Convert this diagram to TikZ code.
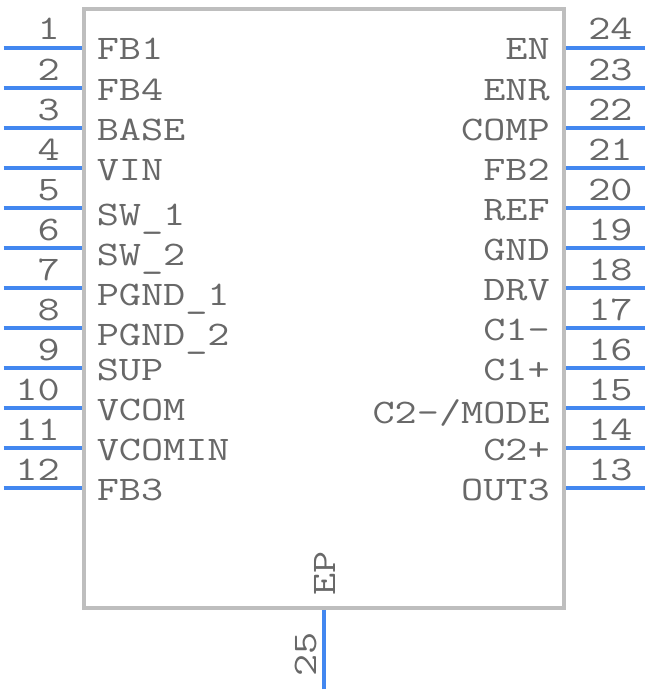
\documentclass[tikz,border=0pt]{standalone}
\usepackage{fontspec}
\setmonofont[FakeStretch=1.25]{Latin Modern Mono}
\usepackage{xcolor}
\definecolor{pinblue}{HTML}{4287F0}
\definecolor{bodygray}{HTML}{BEBEBE}
\definecolor{textgray}{HTML}{686868}
\newcommand{\pinbar}{\raisebox{-1.5pt}{\_}}
\tikzset{
  x=.75pt, y=-.75pt,
  chip/.style={rectangle, draw=bodygray, line width=3pt, minimum width=360pt, minimum height=449.6pt, inner sep=0pt},
  pin/.style={draw=pinblue, line width=3pt},
  lbl/.style={text=textgray, inner sep=0pt, font=\ttfamily\fontsize{25.8pt}{25.8pt}\selectfont},
}

\begin{document}
\begin{tikzpicture}
  \useasboundingbox (0, 0) rectangle (648, 692);

  \node[chip] (body) at (324, 308.25) {};

  \coordinate (p1) at (3.5, 48);
  \coordinate (p2) at (3.5, 88);
  \coordinate (p3) at (3.5, 128);
  \coordinate (p4) at (3.5, 168);
  \coordinate (p5) at (3.5, 208);
  \coordinate (p6) at (3.5, 248);
  \coordinate (p7) at (3.5, 288);
  \coordinate (p8) at (3.5, 328);
  \coordinate (p9) at (3.5, 368);
  \coordinate (p10) at (3.5, 408);
  \coordinate (p11) at (3.5, 448);
  \coordinate (p12) at (3.5, 488);
  \coordinate (p13) at (645, 488);
  \coordinate (p14) at (645, 448);
  \coordinate (p15) at (645, 408);
  \coordinate (p16) at (645, 368);
  \coordinate (p17) at (645, 328);
  \coordinate (p18) at (645, 288);
  \coordinate (p19) at (645, 248);
  \coordinate (p20) at (645, 208);
  \coordinate (p21) at (645, 168);
  \coordinate (p22) at (645, 128);
  \coordinate (p23) at (645, 88);
  \coordinate (p24) at (645, 48);
  \coordinate (p25) at (324, 689);

  \draw[pin] (p1) -- (p1 -| body.west);
  \draw[pin] (p2) -- (p2 -| body.west);
  \draw[pin] (p3) -- (p3 -| body.west);
  \draw[pin] (p4) -- (p4 -| body.west);
  \draw[pin] (p5) -- (p5 -| body.west);
  \draw[pin] (p6) -- (p6 -| body.west);
  \draw[pin] (p7) -- (p7 -| body.west);
  \draw[pin] (p8) -- (p8 -| body.west);
  \draw[pin] (p9) -- (p9 -| body.west);
  \draw[pin] (p10) -- (p10 -| body.west);
  \draw[pin] (p11) -- (p11 -| body.west);
  \draw[pin] (p12) -- (p12 -| body.west);
  \draw[pin] (p13) -- (p13 -| body.east);
  \draw[pin] (p14) -- (p14 -| body.east);
  \draw[pin] (p15) -- (p15 -| body.east);
  \draw[pin] (p16) -- (p16 -| body.east);
  \draw[pin] (p17) -- (p17 -| body.east);
  \draw[pin] (p18) -- (p18 -| body.east);
  \draw[pin] (p19) -- (p19 -| body.east);
  \draw[pin] (p20) -- (p20 -| body.east);
  \draw[pin] (p21) -- (p21 -| body.east);
  \draw[pin] (p22) -- (p22 -| body.east);
  \draw[pin] (p23) -- (p23 -| body.east);
  \draw[pin] (p24) -- (p24 -| body.east);
  \draw[pin] (p25) -- (p25 |- body.south);

  \node[lbl, anchor=base east] (n1) at (60, 40) {1};
  \node[lbl, anchor=base east] (n2) at (60, 80) {2};
  \node[lbl, anchor=base east] (n3) at (60, 120) {3};
  \node[lbl, anchor=base east] (n4) at (60, 160) {4};
  \node[lbl, anchor=base east] (n5) at (60, 200) {5};
  \node[lbl, anchor=base east] (n6) at (60, 240) {6};
  \node[lbl, anchor=base east] (n7) at (60, 280) {7};
  \node[lbl, anchor=base east] (n8) at (60, 320) {8};
  \node[lbl, anchor=base east] (n9) at (60, 360) {9};
  \node[lbl, anchor=base east] (n10) at (60, 400) {10};
  \node[lbl, anchor=base east] (n11) at (60, 440) {11};
  \node[lbl, anchor=base east] (n12) at (60, 480) {12};
  \node[lbl, anchor=base west] (n13) at (588, 480) {13};
  \node[lbl, anchor=base west] (n14) at (588, 440) {14};
  \node[lbl, anchor=base west] (n15) at (588, 400) {15};
  \node[lbl, anchor=base west] (n16) at (588, 360) {16};
  \node[lbl, anchor=base west] (n17) at (588, 320) {17};
  \node[lbl, anchor=base west] (n18) at (588, 280) {18};
  \node[lbl, anchor=base west] (n19) at (588, 240) {19};
  \node[lbl, anchor=base west] (n20) at (588, 200) {20};
  \node[lbl, anchor=base west] (n21) at (588, 160) {21};
  \node[lbl, anchor=base west] (n22) at (588, 120) {22};
  \node[lbl, anchor=base west] (n23) at (588, 80) {23};
  \node[lbl, anchor=base west] (n24) at (588, 40) {24};
  \node[lbl, anchor=base west, rotate=90] (n25) at (316, 677) {25};

  \node[lbl, anchor=base west] (fb1) at (96.5, 60) {FB1};
  \node[lbl, anchor=base west] (fb4) at (96.5, 100) {FB4};
  \node[lbl, anchor=base west] (base) at (96.5, 140) {BASE};
  \node[lbl, anchor=base west] (vin) at (96.5, 180) {VIN};
  \node[lbl, anchor=base west] (sw1) at (96.5, 225) {SW\pinbar 1};
  \node[lbl, anchor=base west] (sw2) at (96.5, 265) {SW\pinbar 2};
  \node[lbl, anchor=base west] (pgnd1) at (96.5, 305) {PGND\pinbar 1};
  \node[lbl, anchor=base west] (pgnd2) at (96.5, 345) {PGND\pinbar 2};
  \node[lbl, anchor=base west] (sup) at (96.5, 380) {SUP};
  \node[lbl, anchor=base west] (vcom) at (96.5, 420) {VCOM};
  \node[lbl, anchor=base west] (vcomin) at (96.5, 460) {VCOMIN};
  \node[lbl, anchor=base west] (fb3) at (96.5, 500) {FB3};

  \node[lbl, anchor=base east] (en) at (550, 60) {EN};
  \node[lbl, anchor=base east] (enr) at (550, 100) {ENR};
  \node[lbl, anchor=base east] (comp) at (550, 140) {COMP};
  \node[lbl, anchor=base east] (fb2) at (550, 180) {FB2};
  \node[lbl, anchor=base east] (ref) at (550, 220) {REF};
  \node[lbl, anchor=base east] (gnd) at (550, 260) {GND};
  \node[lbl, anchor=base east] (drv) at (550, 300) {DRV};
  \node[lbl, anchor=base east] (c1m) at (550, 340) {C1-};
  \node[lbl, anchor=base east] (c1p) at (550, 380) {C1+};
  \node[lbl, anchor=base east] (c2m) at (550, 423) {C2-/MODE};
  \node[lbl, anchor=base east] (c2p) at (550, 460) {C2+};
  \node[lbl, anchor=base east] (out3) at (550, 500) {OUT3};

  \node[lbl, anchor=base west, rotate=90] (ep) at (335, 596) {EP};
\end{tikzpicture}
\end{document}
